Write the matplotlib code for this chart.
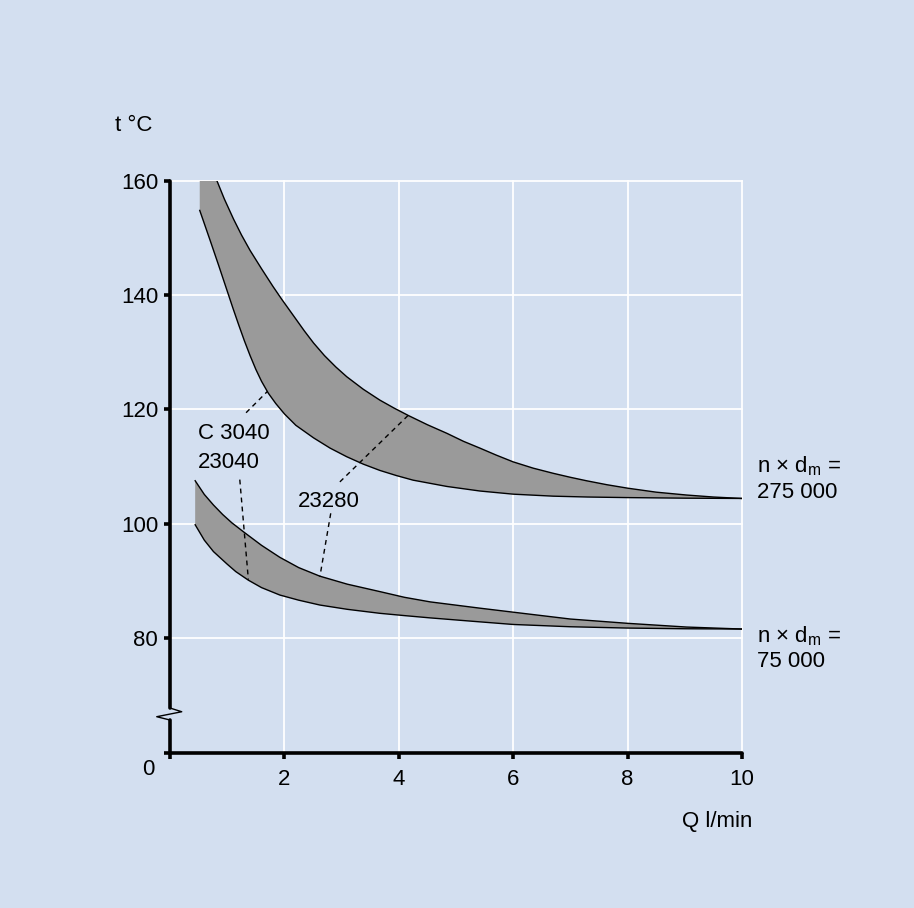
import matplotlib
matplotlib.use("Agg")
import matplotlib.pyplot as plt

plt.rcParams['font.family'] = ['Liberation Sans', 'DejaVu Sans']
plt.rcParams['mathtext.fontset'] = 'custom'
plt.rcParams['mathtext.rm'] = 'Liberation Sans'
plt.rcParams['mathtext.it'] = 'Liberation Sans:italic'

# ---- data ----
# n x dm = 275 000 band
hi_upper_q = [0.82, 0.95, 1.11, 1.25, 1.40, 1.60, 1.80, 1.95, 2.15, 2.35, 2.51, 2.70, 2.90, 3.09,
              3.38, 3.67, 3.92, 4.17, 4.50, 4.84, 5.13, 5.42, 5.70, 6.00, 6.35, 6.70, 7.00, 7.28,
              7.64, 8.00, 8.50, 9.03, 9.50, 10.0]
hi_upper_t = [160.0, 156.8, 153.3, 150.5, 147.8, 144.6, 141.5, 139.3, 136.5, 133.7, 131.6, 129.4,
              127.4, 125.7, 123.5, 121.6, 120.2, 118.9, 117.3, 115.8, 114.4, 113.2, 112.0, 110.8,
              109.7, 108.8, 108.1, 107.5, 106.8, 106.2, 105.5, 105.0, 104.65, 104.4]
hi_lower_q = [0.52, 0.70, 0.85, 1.00, 1.10, 1.20, 1.30, 1.40, 1.50, 1.60, 1.72, 1.85, 2.00, 2.20,
              2.51, 2.80, 3.09, 3.38, 3.67, 3.96, 4.25, 4.84, 5.42, 6.00, 6.70, 7.30, 8.00, 9.00,
              10.0]
hi_lower_t = [154.8, 149.6, 145.2, 140.7, 137.7, 134.8, 132.0, 129.4, 127.0, 124.9, 122.8, 121.0,
              119.2, 117.2, 115.0, 113.2, 111.7, 110.4, 109.3, 108.4, 107.6, 106.5, 105.7, 105.15,
              104.8, 104.65, 104.55, 104.45, 104.4]
hi_start_q = 0.52

# n x dm = 75 000 band
lo_upper_q = [0.44, 0.60, 0.76, 0.92, 1.08, 1.28, 1.60, 1.92, 2.25, 2.62, 3.10, 3.67, 4.10, 4.55,
              5.42, 6.00, 7.00, 8.00, 9.03, 10.0]
lo_upper_t = [107.5, 105.1, 103.25, 101.6, 100.15, 98.6, 96.2, 94.1, 92.3, 90.8, 89.4, 88.1, 87.1,
              86.3, 85.2, 84.5, 83.3, 82.55, 81.9, 81.55]
lo_lower_q = [0.44, 0.60, 0.76, 1.00, 1.15, 1.37, 1.60, 1.92, 2.25, 2.62, 3.10, 3.67, 4.10, 4.55,
              5.30, 6.00, 7.00, 8.00, 9.00, 10.0]
lo_lower_t = [99.8, 97.1, 95.1, 92.9, 91.6, 90.1, 88.8, 87.5, 86.6, 85.75, 85.0, 84.3, 83.9, 83.5,
              82.9, 82.35, 81.95, 81.72, 81.6, 81.55]

# leader lines (start -> end in data units)
leaders = [
    ((1.33, 119.4), (1.70, 123.1)),   # C 3040 -> upper band
    ((1.22, 107.7), (1.37, 90.2)),    # 23040 -> lower band
    ((2.97, 107.3), (4.17, 119.0)),   # 23280 -> upper band
    ((2.81, 101.8), (2.62, 90.7)),    # 23280 -> lower band
]

x_ticks = [0, 2, 4, 6, 8, 10]
x_ticklabels = ['', '2', '4', '6', '8', '10']
y_ticks = [80, 100, 120, 140, 160]
y_ticklabels = ['80', '100', '120', '140', '160']
y_bottom = 59.86
y_top = 160

BG = '#d3dff0'
FILL = '#9a9a9a'
FS = 16

fig = plt.figure(figsize=(9.14, 9.08), dpi=100, facecolor=BG)
ax = fig.add_axes([170 / 914, 1 - 753 / 908, 572 / 914, (753 - 180.7) / 908])
ax.set_facecolor(BG)
ax.set_xlim(0, 10)
ax.set_ylim(y_bottom, y_top)

# grid
ax.set_xticks(x_ticks)
ax.set_xticklabels(x_ticklabels)
ax.set_yticks([y_bottom] + y_ticks)
ax.set_yticklabels([''] + y_ticklabels)
ax.grid(True, color='white', lw=1.3)
for gl in ax.get_xgridlines() + ax.get_ygridlines():
    gl.set_clip_on(False)
ax.get_xgridlines()[0].set_visible(False)
ax.get_ygridlines()[0].set_visible(False)
ax.set_axisbelow(True)

# bands
poly_q = [hi_start_q] + hi_upper_q + hi_lower_q[::-1]
poly_t = [160.0] + hi_upper_t + hi_lower_t[::-1]
ax.fill(poly_q, poly_t, color=FILL, lw=0, zorder=2)
ax.plot(hi_upper_q, hi_upper_t, color='black', lw=1.0, zorder=3)
ax.plot(hi_lower_q, hi_lower_t, color='black', lw=1.0, zorder=3)

poly_q = lo_upper_q + lo_lower_q[::-1]
poly_t = lo_upper_t + lo_lower_t[::-1]
ax.fill(poly_q, poly_t, color=FILL, lw=0, zorder=2)
ax.plot(lo_upper_q, lo_upper_t, color='black', lw=1.0, zorder=3)
ax.plot(lo_lower_q, lo_lower_t, color='black', lw=1.0, zorder=3)

for (x0, y0), (x1, y1) in leaders:
    ax.plot([x0, x1], [y0, y1], color='black', lw=1.0, ls=(0, (3.5, 3)), zorder=4)

# spines
for s in ['top', 'right', 'left']:
    ax.spines[s].set_visible(False)
ax.spines['bottom'].set_linewidth(2.6)
ax.spines['bottom'].set_capstyle('round')

# left axis with break
ax.plot([0, 0], [y_bottom, 65.63], color='black', lw=2.6, clip_on=False,
        solid_capstyle='round', zorder=5)
ax.plot([0, 0], [67.73, y_top], color='black', lw=2.6, clip_on=False,
        solid_capstyle='round', zorder=5)
ax.plot([0, 0.205, -0.232, 0], [67.73, 67.08, 66.21, 65.63], color='black',
        lw=1.0, clip_on=False, zorder=5)

ax.tick_params(axis='both', which='both', direction='out', length=4.5, width=2.6,
               labelsize=FS, colors='black')
ax.tick_params(axis='y', pad=4)
ax.tick_params(axis='x', pad=7)

# texts
ax.text(-0.385, 57.0, '0', fontsize=FS, ha='center', va='center', clip_on=False)
ax.text(-0.96, 169.6, 't °C', fontsize=FS, ha='left', va='center', clip_on=False)
ax.text(9.56, 47.8, 'Q l/min', fontsize=FS, ha='center', va='center', clip_on=False)
ax.text(0.495, 115.7, 'C 3040', fontsize=FS, ha='left', va='center')
ax.text(0.495, 110.7, '23040', fontsize=FS, ha='left', va='center')
ax.text(2.24, 103.8, '23280', fontsize=FS, ha='left', va='center')
ax.text(10.27, 110.0, r'n × d$_{\mathrm{m}}$ =', fontsize=FS, ha='left', va='center', clip_on=False)
ax.text(10.27, 105.4, '275 000', fontsize=FS, ha='left', va='center', clip_on=False)
ax.text(10.27, 80.3, r'n × d$_{\mathrm{m}}$ =', fontsize=FS, ha='left', va='center', clip_on=False)
ax.text(10.27, 75.8, '75 000', fontsize=FS, ha='left', va='center', clip_on=False)

fig.savefig('out.png', dpi=100, facecolor=BG)
